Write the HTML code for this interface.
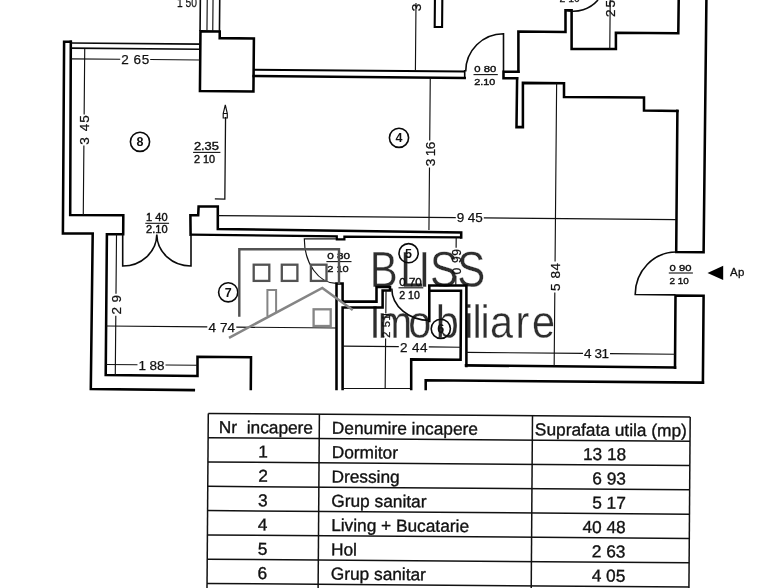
<!DOCTYPE html>
<html lang="ro">
<head>
<meta charset="utf-8">
<title>Plan apartament - BLISS Imobiliare</title>
<style>
html,body{margin:0;padding:0;background:#fff;}
body{width:784px;height:588px;overflow:hidden;}
svg{display:block;will-change:transform;}
text{white-space:pre;}
</style>
</head>
<body>
<svg width="784" height="588" viewBox="0 0 784 588">
<rect width="784" height="588" fill="#fff"/>
<g id="logo-text" font-family="'Liberation Sans', sans-serif" fill="#2e2e2e" stroke="#fff" stroke-width="0.35" stroke-linejoin="round">
<text transform="translate(369.7,286.5) scale(0.83,1)" font-size="50.5" x="0.0 36.7 58.9 72.7 105.5">BLISS</text>
<text transform="translate(369.2,337.6) scale(0.9,1)" font-size="46" x="0.0 9.6 43.3 74.0 105.6 114.9 123.8 134.1 162.7 180.9">Imobiliare</text>
</g>
<g id="walls">
<path d="M70.8,41.8 L64.1,41.8 L62.9,233.4 L92.7,233.6 L90.8,389 L193.8,390.1" stroke="#000" stroke-width="2.55" fill="none" stroke-linejoin="miter" stroke-linecap="square"/>
<path d="M70.8,41.8 L70.2,214.9 L123.3,215.3 L123.2,234.3 L106.9,234.3 L105.7,375.1 L197.5,375.9 L197.5,356.8 L251,357.3 L250.8,389" stroke="#000" stroke-width="2.55" fill="none" stroke-linejoin="miter" stroke-linecap="square"/>
<path d="M200.2,31.6 H219.5 V38.2 H253.7 V91.2 H200.2 Z" stroke="#000" stroke-width="2.55" fill="none" stroke-linejoin="miter" stroke-linecap="square" transform="rotate(0.5 226.9 61.4)"/>
<path d="M71,43.6 H200 M71,48.7 H200" stroke="#0a0a0a" stroke-width="1.6" fill="none" stroke-linecap="butt" transform="rotate(0.5 135.5 46.2)"/>
<path d="M200.2,0 V31 M219.6,0 V31" stroke="#0a0a0a" stroke-width="1.6" fill="none" stroke-linecap="butt" transform="rotate(0.5 209.9 15.5)"/>
<path d="M207.1,0 V31 M212.9,0 V31" stroke="#111" stroke-width="1.15" fill="none" transform="rotate(0.5 210.0 15.5)"/>
<path d="M253.7,70.6 H464.7" stroke="#000" stroke-width="2" fill="none" transform="rotate(0.5 359.2 70.6)"/>
<path d="M253.7,77 H464.7" stroke="#000" stroke-width="2.55" fill="none" stroke-linejoin="miter" stroke-linecap="square" transform="rotate(0.5 359.2 77.0)"/>
<path d="M464.7,70 V78" stroke="#000" stroke-width="1.6" fill="none"/>
<path d="M434.8,0 V27 H442.2 V0" stroke="#000" stroke-width="2.1" fill="none" stroke-linecap="square" transform="rotate(0.5 438.5 13.5)"/>
<path d="M465.7,71.5 A37.8,37.8 0 0 1 503.5,33.7 V71" stroke="#0a0a0a" stroke-width="1.6" fill="none" stroke-linecap="butt"/>
<path d="M503.5,71.8 H518.4 M503.5,78.2 H517 M503.5,71.8 V78.2" stroke="#000" stroke-width="2.55" fill="none" stroke-linejoin="miter" stroke-linecap="square"/>
<path d="M518.4,71.8 V31.6 L565.5,32 V10.2 H571.6 V49 H615.9 V32.7 L678.3,33.2 L678.7,0" stroke="#000" stroke-width="2.55" fill="none" stroke-linejoin="miter" stroke-linecap="square"/>
<path d="M517.1,78.2 L516.5,127.1 H522.9 V82.9 L564,83.3 V97 L644,97.5 V110.6 L677.4,110.9" stroke="#000" stroke-width="2.55" fill="none" stroke-linejoin="miter" stroke-linecap="square"/>
<path d="M677.4,110.9 L676.2,252 L703.6,252.2 L706.4,0" stroke="#000" stroke-width="2.55" fill="none" stroke-linejoin="miter" stroke-linecap="square"/>
<path d="M675,367.6 L675.5,295.6 L703.6,295.8 L702.9,382.6" stroke="#000" stroke-width="2.55" fill="none" stroke-linejoin="miter" stroke-linecap="square"/>
<path d="M675,367.6 L466,365.4" stroke="#000" stroke-width="2.55" fill="none" stroke-linejoin="miter" stroke-linecap="square"/>
<path d="M425.7,389 V380.3 L702.9,382.6" stroke="#000" stroke-width="2.55" fill="none" stroke-linejoin="miter" stroke-linecap="square"/>
<path d="M676.2,252 A41,42.5 0 0 0 635.2,294.5 L675.5,294.9" stroke="#0a0a0a" stroke-width="1.6" fill="none" stroke-linecap="butt"/>
<path d="M429.3,321 V285.5 H466.4 V366" stroke="#000" stroke-width="2.55" fill="none" stroke-linejoin="miter" stroke-linecap="square"/>
<path d="M430.5,290.8 H461 L460.6,359.8 L411.2,359.4 V389" stroke="#000" stroke-width="2.55" fill="none" stroke-linejoin="miter" stroke-linecap="square"/>
<path d="M336.5,283.4 V389 M336.5,283.4 H342.6 V301.6 H376.5 V287 H390 V290.4 H382.6 V307.5 H342.6 V389" stroke="#000" stroke-width="2.55" fill="none" stroke-linejoin="miter" stroke-linecap="square"/>
<path d="M190.6,234.6 L190.4,215.2 L198.2,215.2 L198.6,206.4 L217.8,206.4 L217.8,229 L461.2,232.5 L461.2,237.4" stroke="#000" stroke-width="2.55" fill="none" stroke-linejoin="miter" stroke-linecap="square"/>
<path d="M190.6,234.6 L336.8,236.4 V239.4 H344.4 V236.6 L461.2,237.4" stroke="#000" stroke-width="2.2" fill="none"/>
<path d="M342,388.5 H410" stroke="#111" stroke-width="1.15" fill="none"/>
</g>
<g id="dims">
<path d="M71,59.4 H120.19999999999999 M150.2,59.4 H200" stroke="#111" stroke-width="1.15" fill="none" transform="rotate(0.5 135.5 59.4)"/>
<path d="M84,49 V114.5 M84,145.5 V215" stroke="#111" stroke-width="1.15" fill="none" transform="rotate(0.5 84.0 132.0)"/>
<path d="M225.2,117 V199 H215.2" stroke="#111" stroke-width="1.3" fill="none" transform="rotate(0.5 220.2 158.0)"/>
<path d="M225.3,105 L227.3,113.5 V118 H223.2 V113.5 Z M223.2,113.5 H227.3" stroke="#111" stroke-width="1.15" fill="none"/>
<path d="M218,217.6 H455.8 M483.8,217.6 H676" stroke="#111" stroke-width="1.15" fill="none" transform="rotate(0.5 447.0 217.6)"/>
<path d="M429.6,78 V140.5 M429.6,167.5 V230" stroke="#111" stroke-width="1.15" fill="none" transform="rotate(0.5 429.6 154.0)"/>
<path d="M415.7,12 V3.0 M415.7,12.0 V70.5" stroke="#111" stroke-width="1.15" fill="none" transform="rotate(0.5 415.7 36.8)"/>
<path d="M555.4,83.3 V261.5 M555.4,292.5 V366" stroke="#111" stroke-width="1.15" fill="none" transform="rotate(0.5 555.4 224.7)"/>
<path d="M466.4,353.3 H583.0 M610.0,353.3 H675.3" stroke="#111" stroke-width="1.15" fill="none" transform="rotate(0.5 570.8 353.3)"/>
<path d="M342.6,346.7 H398.8 M428.8,346.7 H461" stroke="#111" stroke-width="1.15" fill="none" transform="rotate(0.5 401.8 346.7)"/>
<path d="M106,327 H207.3 M236.3,327 H336.5" stroke="#111" stroke-width="1.15" fill="none" transform="rotate(0.5 221.2 327.0)"/>
<path d="M105.8,364.9 H137.5 M165.5,364.9 H197.5" stroke="#111" stroke-width="1.15" fill="none" transform="rotate(0.5 151.7 364.9)"/>
<path d="M115.9,234.3 V293.8 M115.9,315.8 V375.2" stroke="#111" stroke-width="1.15" fill="none" transform="rotate(0.5 115.9 304.8)"/>
<path d="M456,237.4 V247.8 M456,275.8 V285" stroke="#111" stroke-width="1.15" fill="none" transform="rotate(0.5 456.0 261.2)"/>
<path d="M385.6,290.4 V313.5 M385.6,338.5 V389" stroke="#111" stroke-width="1.15" fill="none" transform="rotate(0.5 385.6 339.7)"/>
<path d="M382,314.6 H389" stroke="#111" stroke-width="1.15" fill="none"/>
<path d="M610,17.5 V-0.5 M610,17.5 V49" stroke="#111" stroke-width="1.15" fill="none" transform="rotate(0.5 610.0 24.2)"/>
<path d="M122.7,234.3 V266 A34,31.7 0 0 0 156.8,234.6 M191,234.6 V266 A34,31.7 0 0 1 156.8,234.6" stroke="#0a0a0a" stroke-width="1.6" fill="none" stroke-linecap="butt"/>
<path d="M336,238.8 H304.3 A32,44.6 0 0 0 336.2,283.4" stroke="#111" stroke-width="1.15" fill="none"/>
<path d="M391.8,288.5 A38,32 0 0 0 430,320.5" stroke="#0a0a0a" stroke-width="1.6" fill="none" stroke-linecap="butt"/>
<path d="M565.5,10.2 A32.5,32.5 0 0 0 598,0" stroke="#0a0a0a" stroke-width="1.6" fill="none" stroke-linecap="butt"/>
</g>
<g id="rooms" font-family="'Liberation Sans', sans-serif" font-size="12.5" font-weight="bold" text-anchor="middle" fill="#111">
<circle cx="140" cy="141.8" r="9.6" fill="none" stroke="#0a0a0a" stroke-width="1.6"/>
<text x="140" y="146.20000000000002">8</text>
<circle cx="399" cy="137.8" r="9.6" fill="none" stroke="#0a0a0a" stroke-width="1.6"/>
<text x="399" y="142.20000000000002">4</text>
<circle cx="228.2" cy="292.3" r="9.6" fill="none" stroke="#0a0a0a" stroke-width="1.6"/>
<text x="228.2" y="296.7">7</text>
<circle cx="408.6" cy="253.2" r="9.6" fill="none" stroke="#0a0a0a" stroke-width="1.6"/>
<text x="408.6" y="257.59999999999997">5</text>
<circle cx="440.8" cy="328.8" r="9.6" fill="none" stroke="#0a0a0a" stroke-width="1.6"/>
<text x="440.8" y="333.2">6</text>
</g>
<g id="labels" font-family="'Liberation Sans', sans-serif" fill="#111">
<text x="135.2" y="64.2" font-size="13.5" text-anchor="middle" textLength="28" lengthAdjust="spacing" stroke="#111" stroke-width="0.25">2 65</text>
<text transform="translate(88.8,130) rotate(-90)" font-size="13.5" text-anchor="middle" textLength="29.5" lengthAdjust="spacing" stroke="#111" stroke-width="0.25">3 45</text>
<text x="469.8" y="222.4" font-size="13.5" text-anchor="middle" textLength="26" lengthAdjust="spacing" stroke="#111" stroke-width="0.25">9 45</text>
<text transform="translate(434.6,154) rotate(-90)" font-size="13.5" text-anchor="middle" textLength="24.5" lengthAdjust="spacing" stroke="#111" stroke-width="0.25">3 16</text>
<text transform="translate(420.7,7.5) rotate(-90)" font-size="13.5" text-anchor="middle" stroke="#111" stroke-width="0.25">3</text>
<text transform="translate(560.4,277) rotate(-90)" font-size="13.5" text-anchor="middle" textLength="28" lengthAdjust="spacing" stroke="#111" stroke-width="0.25">5 84</text>
<text x="596.5" y="358.1" font-size="13.5" text-anchor="middle" textLength="25" lengthAdjust="spacing" stroke="#111" stroke-width="0.25">4 31</text>
<text x="413.8" y="351.5" font-size="13.5" text-anchor="middle" textLength="27.5" lengthAdjust="spacing" stroke="#111" stroke-width="0.25">2 44</text>
<text x="221.8" y="331.7" font-size="13.5" text-anchor="middle" textLength="26.5" lengthAdjust="spacing" stroke="#111" stroke-width="0.25">4 74</text>
<text x="151.5" y="369.7" font-size="13.5" text-anchor="middle" textLength="26" lengthAdjust="spacing" stroke="#111" stroke-width="0.25">1 88</text>
<text transform="translate(120.60000000000001,304.8) rotate(-90)" font-size="13.5" text-anchor="middle" textLength="19.5" lengthAdjust="spacing" stroke="#111" stroke-width="0.25">2 9</text>
<text transform="translate(460.5,261.8) rotate(-90)" font-size="12" text-anchor="middle" textLength="25.5" lengthAdjust="spacing" stroke="#111" stroke-width="0.25">0 99</text>
<text transform="translate(389.6,326) rotate(-90)" font-size="11" text-anchor="middle" textLength="23.5" lengthAdjust="spacing" stroke="#111" stroke-width="0.25">2 51</text>
<text transform="translate(614.7,8.5) rotate(-90)" font-size="13.5" text-anchor="middle" textLength="17" lengthAdjust="spacing" stroke="#111" stroke-width="0.25">2 5</text>
<text x="177" y="6.9" font-size="13.5" textLength="20" lengthAdjust="spacingAndGlyphs" stroke="#111" stroke-width="0.25">1 50</text>
<text x="193.9" y="150.1" font-size="11" textLength="25" lengthAdjust="spacingAndGlyphs" stroke="#111" stroke-width="0.4">2.35</text>
<path d="M193.1,152.4 H220.4" stroke="#111" stroke-width="1.1"/>
<text x="193.9" y="162.79999999999998" font-size="11" textLength="21.2" lengthAdjust="spacingAndGlyphs" stroke="#111" stroke-width="0.4">2 10</text>
<text x="146.1" y="221" font-size="10" textLength="21.5" lengthAdjust="spacingAndGlyphs" stroke="#111" stroke-width="0.4">1 40</text>
<path d="M145.29999999999998,223.3 H169.1" stroke="#111" stroke-width="1.1"/>
<text x="146.1" y="233.4" font-size="10" textLength="21.5" lengthAdjust="spacingAndGlyphs" stroke="#111" stroke-width="0.4">2.10</text>
<text x="474.3" y="72.3" font-size="9.5" textLength="22" lengthAdjust="spacingAndGlyphs" stroke="#111" stroke-width="0.4">0 80</text>
<path d="M473.5,74.6 H497.8" stroke="#111" stroke-width="1.1"/>
<text x="474.3" y="84.6" font-size="9.5" textLength="21" lengthAdjust="spacingAndGlyphs" stroke="#111" stroke-width="0.4">2.10</text>
<text x="327.2" y="259.3" font-size="9.5" textLength="22.8" lengthAdjust="spacingAndGlyphs" stroke="#111" stroke-width="0.4">0 80</text>
<path d="M326.4,261.6 H351.5" stroke="#111" stroke-width="1.1"/>
<text x="327.2" y="271.7" font-size="9.5" textLength="21.5" lengthAdjust="spacingAndGlyphs" stroke="#111" stroke-width="0.4">2 10</text>
<text x="399.3" y="285.5" font-size="10" textLength="22.5" lengthAdjust="spacingAndGlyphs" stroke="#111" stroke-width="0.4">0 70</text>
<path d="M398.5,287.8 H423.3" stroke="#111" stroke-width="1.1"/>
<text x="399.3" y="298.6" font-size="10" textLength="20.5" lengthAdjust="spacingAndGlyphs" stroke="#111" stroke-width="0.4">2 10</text>
<text x="669.6" y="270.7" font-size="9.2" textLength="21.8" lengthAdjust="spacingAndGlyphs" stroke="#111" stroke-width="0.4">0 90</text>
<path d="M668.8000000000001,273.0 H692.9" stroke="#111" stroke-width="1.1"/>
<text x="669.6" y="283.59999999999997" font-size="9.2" textLength="19.2" lengthAdjust="spacingAndGlyphs" stroke="#111" stroke-width="0.4">2 10</text>
<text x="730" y="275.8" font-size="11.5" stroke="#111" stroke-width="0.3" textLength="14.5" lengthAdjust="spacing">Ap</text>
<path d="M707.5,272.9 L723.2,265.7 V280 Z" fill="#000"/>
<text x="559.4" y="2.4" font-size="10" textLength="20.4" lengthAdjust="spacingAndGlyphs" stroke="#111" stroke-width="0.25">2 10</text>
</g>
<g id="logo-house">
<path d="M239.3,316.8 V249.2 H339 V284" stroke="#525252" fill="none" stroke-width="2.4"/>
<rect x="253.7" y="264.7" width="15.6" height="16.2" stroke="#525252" fill="none" stroke-width="2.3"/>
<rect x="281.8" y="264.7" width="15.6" height="16.2" stroke="#525252" fill="none" stroke-width="2.3"/>
<rect x="310.9" y="264.7" width="15.6" height="16.2" stroke="#525252" fill="none" stroke-width="2.3"/>
<path d="M267.4,316 V290.1 H276.1 V312.3" stroke="#858585" fill="none" stroke-width="2"/>
<path d="M229,337.9 L322.3,287.9 L352.7,310" stroke="#858585" fill="none" stroke-width="2.5"/>
<rect x="313.6" y="309.3" width="17.1" height="16.7" stroke="#858585" fill="none" stroke-width="2.3"/>
</g>
<g id="table" transform="rotate(0.42 208 413)" font-family="'Liberation Sans', sans-serif" font-size="17.3" fill="#111" stroke="#111" stroke-width="0.35">
<path d="M208.3,413.4 H690.2" stroke="#111" stroke-width="1.5"/>
<path d="M208.3,437.7 H690.2" stroke="#111" stroke-width="1.5"/>
<path d="M208.3,462.0 H690.2" stroke="#111" stroke-width="1.5"/>
<path d="M208.3,486.29999999999995 H690.2" stroke="#111" stroke-width="1.5"/>
<path d="M208.3,510.59999999999997 H690.2" stroke="#111" stroke-width="1.5"/>
<path d="M208.3,534.9 H690.2" stroke="#111" stroke-width="1.5"/>
<path d="M208.3,559.2 H690.2" stroke="#111" stroke-width="1.5"/>
<path d="M208.3,583.5 H690.2" stroke="#111" stroke-width="1.5"/>
<path d="M208.3,607.8 H690.2" stroke="#111" stroke-width="1.5"/>
<path d="M208.3,413.4 V600" stroke="#111" stroke-width="1.5"/>
<path d="M319.4,413.4 V600" stroke="#111" stroke-width="1.5"/>
<path d="M532.5,413.4 V600" stroke="#111" stroke-width="1.5"/>
<path d="M690.2,413.4 V600" stroke="#111" stroke-width="1.5"/>
<text x="219" y="432.9">Nr  incapere</text>
<text x="332" y="432.9">Denumire incapere</text>
<text x="535" y="432.9" textLength="152" lengthAdjust="spacingAndGlyphs">Suprafata utila (mp)</text>
<text x="263.5" y="457.2" text-anchor="middle">1</text>
<text x="332" y="457.2">Dormitor</text>
<text x="626.5" y="457.2" text-anchor="end">13 18</text>
<text x="263.5" y="481.5" text-anchor="middle">2</text>
<text x="332" y="481.5">Dressing</text>
<text x="626.5" y="481.5" text-anchor="end">6 93</text>
<text x="263.5" y="505.79999999999995" text-anchor="middle">3</text>
<text x="332" y="505.79999999999995">Grup sanitar</text>
<text x="626.5" y="505.79999999999995" text-anchor="end">5 17</text>
<text x="263.5" y="530.0999999999999" text-anchor="middle">4</text>
<text x="332" y="530.0999999999999">Living + Bucatarie</text>
<text x="626.5" y="530.0999999999999" text-anchor="end">40 48</text>
<text x="263.5" y="554.4" text-anchor="middle">5</text>
<text x="332" y="554.4">Hol</text>
<text x="626.5" y="554.4" text-anchor="end">2 63</text>
<text x="263.5" y="578.7" text-anchor="middle">6</text>
<text x="332" y="578.7">Grup sanitar</text>
<text x="626.5" y="578.7" text-anchor="end">4 05</text>
</g>
</svg>
</body>
</html>
